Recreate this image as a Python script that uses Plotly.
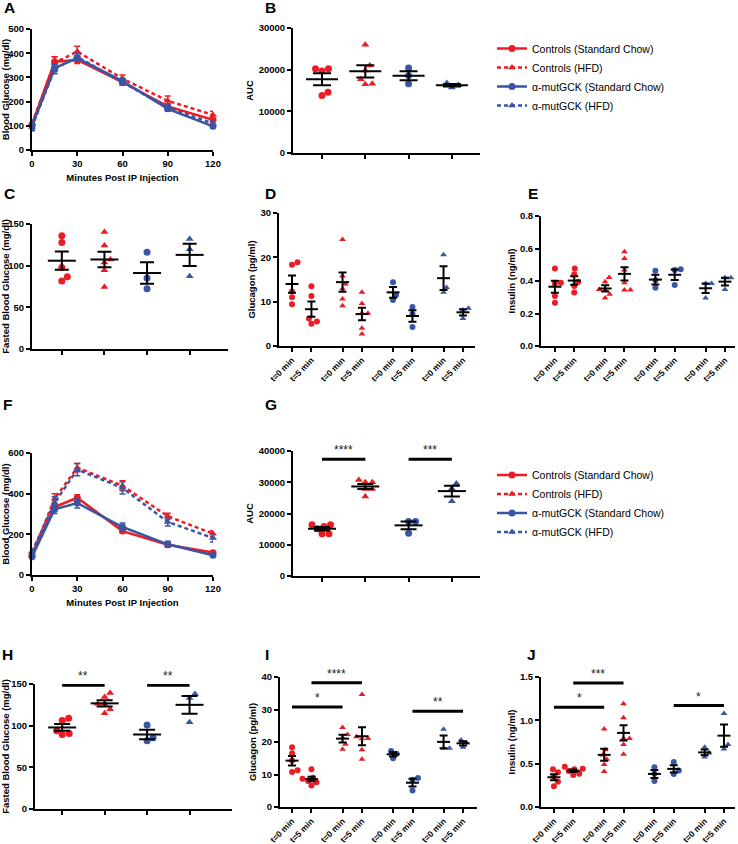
import numpy as np
import plotly.graph_objects as go

# ---------------- data ----------------
TIME = [0, 15, 30, 60, 90, 120]
SERIES = ["Controls (Standard Chow)", "Controls (HFD)",
          "α-mutGCK (Standard Chow)", "α-mutGCK (HFD)"]
TP_LABELS = ["t=0 min", "t=5 min"] * 4

# A: IPGTT chow cohort (mean, SEM)
A_CTRL_SC = [105, 365, 372, 280, 180, 125]
A_CTRL_SC_SE = [10, 20, 15, 12, 12, 10]
A_CTRL_HFD = [110, 360, 407, 295, 203, 145]
A_CTRL_HFD_SE = [12, 25, 22, 15, 20, 15]
A_MUT_SC = [100, 338, 380, 285, 170, 98]
A_MUT_SC_SE = [15, 15, 12, 10, 10, 8]
A_MUT_HFD = [95, 335, 385, 280, 175, 110]
A_MUT_HFD_SE = [15, 20, 15, 12, 12, 10]

# B: AUC chow cohort
B_CTRL_SC = [20200, 19700, 20200, 14600, 13800]
B_CTRL_HFD = [26000, 21000, 19800, 17700, 16500, 16600]
B_MUT_SC = [20400, 18600, 16600]
B_MUT_HFD = [16800, 15700, 16300]

# C: fasted blood glucose chow cohort
C_CTRL_SC = [135.8, 127.7, 97.9, 86.8, 81.6]
C_CTRL_HFD = [140.3, 124.1, 107.5, 103.8, 94.5, 74.3]
C_MUT_SC = [116.0, 85.2, 72.3]
C_MUT_HFD = [132.0, 119.6, 87.2]

# D: glucagon chow cohort
D_CTRL_SC_T0 = [18.3, 18.9, 12.3, 11.0, 9.4]
D_CTRL_SC_T5 = [13.5, 11.3, 6.2, 5.5, 5.0]
D_CTRL_HFD_T0 = [24.0, 15.8, 14.0, 12.9, 10.6, 9.1]
D_CTRL_HFD_T5 = [12.1, 9.6, 7.4, 7.4, 4.0, 2.7]
D_MUT_SC_T0 = [14.4, 11.5, 10.4]
D_MUT_SC_T5 = [8.8, 7.2, 4.3]
D_MUT_HFD_T0 = [20.6, 13.2, 12.1]
D_MUT_HFD_T5 = [8.5, 8.1, 6.2]

# E: insulin chow cohort
E_CTRL_SC_T0 = [0.477, 0.389, 0.385, 0.307, 0.266]
E_CTRL_SC_T5 = [0.477, 0.442, 0.395, 0.370, 0.329]
E_CTRL_HFD_T0 = [0.422, 0.395, 0.348, 0.344, 0.319, 0.296]
E_CTRL_HFD_T5 = [0.580, 0.539, 0.467, 0.389, 0.344, 0.344]
E_MUT_SC_T0 = [0.463, 0.405, 0.358]
E_MUT_SC_T5 = [0.473, 0.467, 0.375]
E_MUT_HFD_T0 = [0.385, 0.385, 0.296]
E_MUT_HFD_T5 = [0.420, 0.420, 0.348]

# F: IPGTT HFD cohort
F_CTRL_SC = [97, 334, 380, 216, 149, 110]
F_CTRL_SC_SE = [8, 15, 15, 10, 10, 8]
F_CTRL_HFD = [100, 375, 528, 439, 289, 203]
F_CTRL_HFD_SE = [10, 25, 20, 25, 15, 15]
F_MUT_SC = [90, 323, 354, 236, 151, 97]
F_MUT_SC_SE = [8, 20, 25, 20, 15, 8]
F_MUT_HFD = [115, 355, 518, 428, 261, 182]
F_MUT_HFD_SE = [10, 30, 30, 30, 20, 20]

# G: AUC HFD cohort
G_CTRL_SC = [16400, 15850, 16400, 13500, 13500, 15100]
G_CTRL_HFD = [30000, 30750, 30000, 27870, 27870, 25430]
G_MUT_SC = [17450, 17450, 13720]
G_MUT_HFD = [29600, 28000, 23900]

# H: fasted blood glucose HFD cohort
H_CTRL_SC = [108.9, 106.1, 94.0, 89.5, 90.7]
H_CTRL_HFD = [139.1, 134.3, 126.2, 126.2, 119.8, 115.0]
H_MUT_SC = [100.8, 81.9, 85.5]
H_MUT_HFD = [137.9, 133.1, 104.0]

# I: glucagon HFD cohort
I_CTRL_SC_T0 = [18.4, 16.5, 14.3, 11.3, 10.8]
I_CTRL_SC_T5 = [11.6, 9.0, 8.7, 8.0, 7.6, 6.6]
I_CTRL_HFD_T0 = [24.5, 22.3, 21.3, 19.3, 17.8]
I_CTRL_HFD_T5 = [34.6, 21.6, 21.1, 21.0, 17.6, 14.7]
I_MUT_SC_T0 = [17.2, 16.4, 15.0]
I_MUT_SC_T5 = [8.9, 8.4, 5.1]
I_MUT_HFD_T0 = [23.9, 18.1, 18.1]
I_MUT_HFD_T5 = [20.6, 19.8, 18.4]

# J: insulin HFD cohort
J_CTRL_SC_T0 = [0.435, 0.40, 0.35, 0.29, 0.24]
J_CTRL_SC_T5 = [0.465, 0.44, 0.435, 0.415, 0.385, 0.37]
J_CTRL_HFD_T0 = [0.90, 0.66, 0.60, 0.55, 0.49, 0.41]
J_CTRL_HFD_T5 = [1.19, 1.03, 0.79, 0.79, 0.72, 0.61]
J_MUT_SC_T0 = [0.46, 0.385, 0.30]
J_MUT_SC_T5 = [0.52, 0.42, 0.38]
J_MUT_HFD_T0 = [0.69, 0.623, 0.577]
J_MUT_HFD_T5 = [1.08, 0.72, 0.67]

# significance: (group a, group b, bar level, label)
G_SIG = [(0, 1, 37400, "****"), (2, 3, 37400, "***")]
H_SIG = [(0, 1, 148.6, "**"), (2, 3, 148.6, "**")]
I_SIG = [(0, 2, 30.8, "*"), (1, 3, 38.2, "****"), (5, 7, 29.5, "**")]
J_SIG = [(0, 2, 1.15, "*"), (1, 3, 1.43, "***"), (5, 7, 1.17, "*")]

# ---------------- style / layout ----------------
W, H = 738, 844
FONT = "Liberation Sans"
RED = "#ED1C24"
BLUE = "#3A55A4"
COLORS = [RED, RED, BLUE, BLUE]
SYMBOLS = ["circle", "triangle-up", "circle", "triangle-up"]
DASHES = ["solid", "4px,3px", "solid", "4px,3px"]
POS4 = [1, 2, 3, 4]
POS8 = [0, 1, 2.6, 3.6, 5.2, 6.2, 7.8, 8.8]
STYLE8 = [0, 0, 1, 1, 2, 2, 3, 3]
TICKFONT = dict(family=FONT, size=9.5, color="black", weight="bold")
ROTFONT = dict(family=FONT, size=8.5, color="black", weight="bold")
TITLEFONT = dict(family=FONT, size=9.5, color="black", weight="bold")

fig = go.Figure()
layout = dict(template="none", width=W, height=H, margin=dict(l=0, r=0, t=0, b=0, pad=0),
              paper_bgcolor="white", plot_bgcolor="white", showlegend=True,
              font=dict(family=FONT, color="black"))
annotations = []
AX = {}


def fx(p):
    return p / W


def fy(p):
    return 1 - p / H


def make_axes(n, xpx, ypx, xr, yr, xkw, ykw):
    sx = "" if n == 1 else str(n)
    base = dict(showline=True, linecolor="black", linewidth=2, ticks="outside",
                ticklen=4, tickwidth=1.5, tickcolor="black", showgrid=False,
                zeroline=False, tickfont=TICKFONT, fixedrange=True, automargin=False)
    layout["xaxis" + sx] = dict(base, domain=[fx(xpx[0]), fx(xpx[1])], range=xr,
                                anchor="y" + sx, **xkw)
    layout["yaxis" + sx] = dict(base, domain=[fy(ypx[1]), fy(ypx[0])], range=yr,
                                anchor="x" + sx, **ykw)
    xppu = (xpx[1] - xpx[0]) / (xr[1] - xr[0])
    yppu = (ypx[1] - ypx[0]) / (yr[1] - yr[0])
    AX[n] = ("x" + sx, "y" + sx, xppu, yppu)
    return AX[n]


def ytitle(text, standoff=3):
    return dict(text=text, font=TITLEFONT, standoff=standoff)


def swarm(vals, d, yppu, xppu):
    order = sorted(range(len(vals)), key=lambda i: vals[i])
    placed, offs = [], [0.0] * len(vals)
    cands = [0.0]
    for k in range(1, 60):
        cands += [k * 0.5, -k * 0.5]
    for i in order:
        y = vals[i] * yppu
        for c in cands:
            if all((c - px) ** 2 + (y - py) ** 2 >= (0.95 * d) ** 2 for px, py in placed):
                break
        placed.append((c, y))
        offs[i] = c / xppu
    return offs


def line_panel(n, series, ses, legend_name):
    xa, ya, _, _ = AX[n]
    for i, (vals, se) in enumerate(zip(series, ses)):
        fig.add_trace(go.Scatter(
            x=TIME, y=vals, xaxis=xa, yaxis=ya, mode="lines+markers",
            name=SERIES[i], legend=legend_name,
            line=dict(color=COLORS[i], width=2.5, dash=DASHES[i]),
            marker=dict(symbol=SYMBOLS[i], size=7, color=COLORS[i]),
            error_y=dict(type="data", array=se, color=COLORS[i], thickness=1.5, width=3),
            cliponaxis=False))


def dot_panel(n, groups, positions, styles, msize, mean_half, cap_half):
    xa, ya, xppu, yppu = AX[n]
    means, ses = [], []
    for g, pos, si in zip(groups, positions, styles):
        offs = swarm(g, msize, yppu, xppu)
        fig.add_trace(go.Scatter(
            x=[pos + o for o in offs], y=g, mode="markers", xaxis=xa, yaxis=ya,
            marker=dict(symbol=SYMBOLS[si], color=COLORS[si], size=msize,
                        line=dict(width=0)),
            showlegend=False, cliponaxis=False, hoverinfo="y"))
        means.append(float(np.mean(g)))
        ses.append(float(np.std(g, ddof=1) / np.sqrt(len(g))))
    fig.add_trace(go.Scatter(
        x=positions, y=means, mode="markers", xaxis=xa, yaxis=ya,
        marker=dict(symbol="line-ew", size=2 * mean_half / 1.4, color="black",
                    line=dict(width=2, color="black")),
        error_y=dict(type="data", array=ses, color="black", thickness=2, width=cap_half),
        showlegend=False, cliponaxis=False))


def sig_panel(n, sigs, positions):
    xa, ya, _, _ = AX[n]
    xs, ys = [], []
    for a, b, lvl, lab in sigs:
        xs += [positions[a], positions[b], None]
        ys += [lvl, lvl, None]
        annotations.append(dict(x=(positions[a] + positions[b]) / 2, y=lvl, xref=xa, yref=ya,
                                text=lab, showarrow=False, yanchor="bottom", yshift=0,
                                font=dict(family=FONT, size=12, color="#222")))
    fig.add_trace(go.Scatter(x=xs, y=ys, mode="lines", xaxis=xa, yaxis=ya,
                             line=dict(color="black", width=3), showlegend=False,
                             cliponaxis=False, hoverinfo="skip"))


cat4 = dict(tickvals=POS4, showticklabels=False)
cat8 = dict(tickvals=POS8, ticktext=TP_LABELS, tickangle=-45, tickfont=ROTFONT)
timex = dict(tickvals=[0, 30, 60, 90, 120],
             title=dict(text="Minutes Post IP Injection", font=TITLEFONT, standoff=6))

make_axes(1, (32, 213), (29, 150), [0, 120], [0, 500], timex,
          dict(dtick=100, title=ytitle("Blood Glucose (mg/dl)")))
make_axes(2, (293, 480), (28, 153), [0.33, 4.65], [0, 30000], cat4,
          dict(dtick=10000, tickformat="d", title=ytitle("AUC")))
make_axes(3, (32, 228), (224, 349), [0.3, 4.9], [0, 150], cat4,
          dict(dtick=50, title=ytitle("Fasted Blood Glucose (mg/dl)")))
make_axes(4, (279, 475), (213, 346), [-0.67, 9.42], [0, 30], cat8,
          dict(dtick=10, title=ytitle("Glucagon (pg/ml)")))
make_axes(5, (541, 735), (216, 346), [-0.72, 9.32], [0, 0.8], cat8,
          dict(dtick=0.2, tickformat=".1f", title=ytitle("Insulin (ng/ml)")))
make_axes(6, (32, 213), (453, 575), [0, 120], [0, 600], timex,
          dict(dtick=200, title=ytitle("Blood Glucose (mg/dl)")))
make_axes(7, (293, 480), (451, 576), [0.33, 4.65], [0, 40000], cat4,
          dict(dtick=10000, tickformat="d", title=ytitle("AUC")))
make_axes(8, (35, 232), (684, 809), [0.36, 5.0], [0, 150], cat4,
          dict(dtick=50, title=ytitle("Fasted Blood Glucose (mg/dl)")))
make_axes(9, (280, 477), (677, 807), [-0.62, 9.52], [0, 40], cat8,
          dict(dtick=10, title=ytitle("Glucagon (pg/ml)")))
make_axes(10, (541, 735), (677, 807), [-0.67, 9.37], [0, 1.5], cat8,
          dict(dtick=0.5, tickformat=".1f", title=ytitle("Insulin (ng/ml)")))

line_panel(1, [A_CTRL_SC, A_CTRL_HFD, A_MUT_SC, A_MUT_HFD],
           [A_CTRL_SC_SE, A_CTRL_HFD_SE, A_MUT_SC_SE, A_MUT_HFD_SE], "legend")
dot_panel(2, [B_CTRL_SC, B_CTRL_HFD, B_MUT_SC, B_MUT_HFD], POS4, [0, 1, 2, 3], 7, 16, 9)
dot_panel(3, [C_CTRL_SC, C_CTRL_HFD, C_MUT_SC, C_MUT_HFD], POS4, [0, 1, 2, 3], 7, 14, 7)
dot_panel(4, [D_CTRL_SC_T0, D_CTRL_SC_T5, D_CTRL_HFD_T0, D_CTRL_HFD_T5,
              D_MUT_SC_T0, D_MUT_SC_T5, D_MUT_HFD_T0, D_MUT_HFD_T5], POS8, STYLE8, 6, 6.5, 4)
dot_panel(5, [E_CTRL_SC_T0, E_CTRL_SC_T5, E_CTRL_HFD_T0, E_CTRL_HFD_T5,
              E_MUT_SC_T0, E_MUT_SC_T5, E_MUT_HFD_T0, E_MUT_HFD_T5], POS8, STYLE8, 6, 6.5, 4)
line_panel(6, [F_CTRL_SC, F_CTRL_HFD, F_MUT_SC, F_MUT_HFD],
           [F_CTRL_SC_SE, F_CTRL_HFD_SE, F_MUT_SC_SE, F_MUT_HFD_SE], "legend2")
dot_panel(7, [G_CTRL_SC, G_CTRL_HFD, G_MUT_SC, G_MUT_HFD], POS4, [0, 1, 2, 3], 7, 14, 8)
dot_panel(8, [H_CTRL_SC, H_CTRL_HFD, H_MUT_SC, H_MUT_HFD], POS4, [0, 1, 2, 3], 7, 14, 8)
dot_panel(9, [I_CTRL_SC_T0, I_CTRL_SC_T5, I_CTRL_HFD_T0, I_CTRL_HFD_T5,
              I_MUT_SC_T0, I_MUT_SC_T5, I_MUT_HFD_T0, I_MUT_HFD_T5], POS8, STYLE8, 6, 6.5, 4)
dot_panel(10, [J_CTRL_SC_T0, J_CTRL_SC_T5, J_CTRL_HFD_T0, J_CTRL_HFD_T5,
               J_MUT_SC_T0, J_MUT_SC_T5, J_MUT_HFD_T0, J_MUT_HFD_T5], POS8, STYLE8, 6, 6.5, 4)
sig_panel(7, G_SIG, POS4)
sig_panel(8, H_SIG, POS4)
sig_panel(9, I_SIG, POS8)
sig_panel(10, J_SIG, POS8)

# panel letters
for lab, px, py in [("A", 2, 7.5), ("B", 263, 7.5), ("C", 2, 193.5), ("D", 263, 193.5),
                    ("E", 526, 193.5), ("F", 1, 404.5), ("G", 263, 404.5),
                    ("H", 0, 654), ("I", 263, 654), ("J", 525, 654)]:
    annotations.append(dict(x=fx(px), y=fy(py), xref="paper", yref="paper", text=lab,
                            showarrow=False, xanchor="left", yanchor="middle",
                            font=dict(family=FONT, size=15.5, color="black", weight="bold")))

legfont = dict(family=FONT, size=10.5, color="black")
layout["legend"] = dict(x=fx(492), y=fy(34), xanchor="left", yanchor="top",
                        font=legfont, bgcolor="rgba(0,0,0,0)", itemwidth=30)
layout["legend2"] = dict(x=fx(492), y=fy(460.5), xanchor="left", yanchor="top",
                         font=legfont, bgcolor="rgba(0,0,0,0)", itemwidth=30)
layout["annotations"] = annotations
fig.update_layout(**layout)
fig.write_html("out.html", config={"displayModeBar": False},
               post_script="document.body.style.margin='0';document.body.style.padding='0';")
